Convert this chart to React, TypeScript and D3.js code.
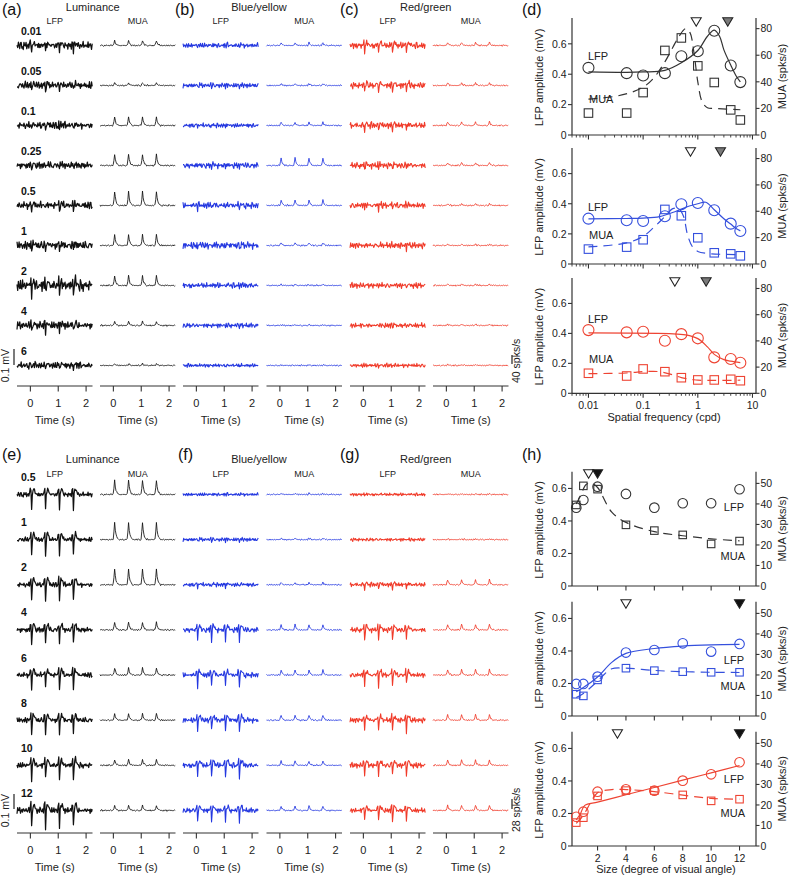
import React from 'react';
import * as d3 from 'd3';

const FONT = "'Liberation Sans', Arial, Helvetica, sans-serif";

// ---------- labels ----------
const sfRowLabels = ['0.01', '0.05', '0.1', '0.25', '0.5', '1', '2', '4', '6'];
const sizeRowLabels = ['0.5', '1', '2', '4', '6', '8', '10', '12'];
const groupTitles = ['Luminance', 'Blue/yellow', 'Red/green'];
const timeTicks = [0, 1, 2];
const stimOnsets = [0, 0.5, 1.0, 1.5];

// ---------- trace shape templates ----------
const noiseA = [0.2, -0.4, 0.6, -0.1, -0.7, 0.3, 0.8, -0.5, 0.1, -0.9, 0.4, 0.2, -0.3, 0.7, -0.6, 0.0,
  0.5, -0.8, 0.3, 0.9, -0.2, -0.5, 0.6, -0.4, 0.1, 0.7, -1.0, 0.4, -0.1, 0.3, -0.6, 0.8,
  -0.3, 0.2, -0.7, 0.5, 0.0, -0.4, 0.9, -0.6, 0.3, -0.2, 0.6, -0.8, 0.1, 0.4, -0.5, 0.7,
  -0.1, -0.9, 0.5, 0.2, -0.3, 0.8, -0.6, 0.0, 0.4, -0.7, 0.6, -0.2, 0.3, -0.5, 0.9, -0.4];
const noiseB = [0.5, -0.8, 0.2, 0.9, -0.4, -0.1, 0.7, -0.6, 0.3, -0.9, 0.6, 0.1, -0.5, 0.8, -0.2, -0.7,
  0.4, 0.0, -0.3, 0.9, -0.6, 0.2, -0.4];
const lfpKernel = [0.25, 0.4, -1.0, -0.1, 0.3, 0.4, 0.3, 0.15, 0.05];
const muaKernel = [0.05, 0.45, 1.0, 0.55, 0.3, 0.18, 0.1, 0.05];

// ---------- spatial frequency traces (mV / spks/s) ----------
const sfLumLfpNoise = [0.045, 0.045, 0.043, 0.043, 0.047, 0.05, 0.072, 0.047, 0.04];
const sfLumLfpEvoked = [0.035, 0.035, 0.025, 0.025, 0.035, 0.035, 0.06, 0.035, 0.025];
const sfLumMua = [22, 12, 38, 50, 62, 48, 44, 18, 8];
const sfBlueLfpNoise = [0.031, 0.029, 0.029, 0.034, 0.037, 0.041, 0.034, 0.029, 0.021];
const sfBlueLfpEvoked = [0.01, 0.01, 0.01, 0.015, 0.02, 0.02, 0.01, 0.01, 0.005];
const sfBlueMua = [12, 8, 14, 32, 24, 12, 5, 3, 2];
const sfRedLfpNoise = [0.038, 0.038, 0.038, 0.036, 0.037, 0.037, 0.033, 0.033, 0.025];
const sfRedLfpEvoked = [0.045, 0.045, 0.035, 0.02, 0.02, 0.015, 0.01, 0.01, 0.005];
const sfRedMua = [14, 12, 16, 13, 8, 6, 6, 6, 4];

// ---------- size traces ----------
const szLumLfpNoise = [0.028, 0.028, 0.031, 0.033, 0.033, 0.033, 0.035, 0.038];
const szLumLfpEvoked = [0.09, 0.1, 0.1, 0.09, 0.09, 0.09, 0.09, 0.1];
const szLumMua = [40, 48, 44, 22, 20, 18, 16, 14];
const szBlueLfpNoise = [0.02, 0.022, 0.026, 0.031, 0.031, 0.031, 0.033, 0.031];
const szBlueLfpEvoked = [0.005, 0.01, 0.02, 0.07, 0.07, 0.07, 0.075, 0.07];
const szBlueMua = [3, 4, 6, 14, 14, 14, 12, 12];
const szRedLfpNoise = [0.018, 0.02, 0.026, 0.03, 0.031, 0.031, 0.031, 0.031];
const szRedLfpEvoked = [0.005, 0.005, 0.03, 0.06, 0.065, 0.065, 0.065, 0.065];
const szRedMua = [2, 2, 14, 16, 16, 16, 15, 15];

// ---------- panel (d) ----------
const sfValues = [0.01, 0.05, 0.1, 0.25, 0.5, 1, 2, 4, 6];
const dLumLfp = [0.442, 0.407, 0.392, 0.407, 0.518, 0.551, 0.686, 0.457, 0.348];
const dLumMua = [16.5, 16.5, 31.9, 63.6, 73, 52, 39.5, 18.9, 11.3];
const dBlueLfp = [0.301, 0.29, 0.285, 0.317, 0.397, 0.405, 0.357, 0.268, 0.219];
const dBlueMua = [11.3, 12.8, 18.4, 41.4, 36.6, 19.9, 8.5, 7.7, 6.2];
const dRedLfp = [0.422, 0.407, 0.411, 0.351, 0.395, 0.367, 0.24, 0.229, 0.204];
const dRedMua = [15.3, 13.2, 18.6, 16.5, 11.9, 10.2, 10.2, 10.7, 9.6];
const dLumLfpFit = [[0.01, 0.415], [0.05, 0.412], [0.1, 0.415], [0.25, 0.425], [0.5, 0.475], [1, 0.556], [1.5, 0.65], [2, 0.69], [2.5, 0.65], [3, 0.56], [4, 0.46], [5, 0.39], [6, 0.35]];
const dLumMuaFit = [[0.01, 27], [0.03, 29], [0.06, 32], [0.1, 36], [0.15, 42], [0.25, 55], [0.35, 66], [0.45, 74], [0.6, 80], [0.72, 77], [0.85, 62], [1.0, 40], [1.2, 25], [1.5, 20.5], [2, 20], [6, 19]];
const dBlueLfpFit = [[0.01, 0.3], [0.05, 0.302], [0.1, 0.305], [0.2, 0.315], [0.4, 0.35], [0.7, 0.385], [1, 0.4], [1.4, 0.41], [2, 0.36], [3, 0.3], [4, 0.265], [5, 0.235], [6, 0.22]];
const dBlueMuaFit = [[0.01, 13], [0.05, 16], [0.1, 21], [0.15, 27], [0.25, 36], [0.35, 42], [0.45, 42], [0.55, 36], [0.65, 22], [0.8, 13], [1, 9.5], [1.5, 8], [6, 7]];
const dRedLfpFit = [[0.01, 0.403], [0.3, 0.398], [0.6, 0.39], [1, 0.365], [1.5, 0.31], [2, 0.26], [3, 0.225], [4, 0.215], [6, 0.205]];
const dRedMuaFit = [[0.01, 15], [0.05, 15.5], [0.1, 16.5], [0.2, 16.5], [0.35, 14], [0.5, 12], [0.8, 10.5], [1, 10], [6, 10]];
const dOpenTri = [0.935, 0.735, 0.38];
const dFilledTri = [3.53, 2.6, 1.42];
const dLeftTicks = [0, 0.2, 0.4, 0.6];
const dRightTicks = [0, 20, 40, 60, 80];
const sfTickLabels = [0.01, 0.1, 1, 10];

// ---------- panel (h) ----------
const sizeValues = [0.5, 1, 2, 4, 6, 8, 10, 12];
const hLumLfp = [0.482, 0.529, 0.611, 0.566, 0.482, 0.509, 0.509, 0.595];
const hLumMua = [39.5, 48.8, 47.2, 29.8, 27, 24.9, 20.5, 21.9];
const hBlueLfp = [0.197, 0.197, 0.242, 0.39, 0.406, 0.447, 0.396, 0.443];
const hBlueMua = [10.6, 9.8, 17.6, 23.3, 22.1, 21.6, 21.3, 21.3];
const hRedLfp = [0.18, 0.211, 0.334, 0.349, 0.34, 0.402, 0.441, 0.515];
const hRedMua = [11.4, 13.8, 24.4, 27, 27, 24.9, 22, 22.8];
const hLumMuaFit = [[0.5, 40], [0.8, 44], [1.2, 49.5], [1.6, 50], [2, 48], [3, 36], [4, 31], [6, 26.5], [8, 24.5], [10, 23], [12, 22]];
const hBlueLfpFit = [[0.5, 0.15], [1, 0.175], [2, 0.24], [3, 0.33], [4, 0.385], [6, 0.415], [8, 0.43], [10, 0.437], [12, 0.44]];
const hBlueMuaFit = [[0.5, 9], [1, 11], [2, 17], [2.5, 20.5], [3, 23], [4, 23.3], [6, 22.2], [8, 21.6], [10, 21.3], [12, 21.2]];
const hRedLfpFit = [[0.5, 0.16], [0.8, 0.2], [1.1, 0.25], [2, 0.27], [4, 0.315], [6, 0.36], [8, 0.405], [10, 0.45], [12, 0.495]];
const hRedMuaFit = [[0.5, 11], [1, 15], [1.5, 21], [2, 26], [3, 27.5], [4, 27.5], [6, 26.5], [8, 24.8], [10, 23.2], [12, 22.8]];
const hOpenTri = [1.37, 4.0, 3.4];
const hFilledTri = [2.0, 12, 12];
const hLeftTicks = [0, 0.2, 0.4, 0.6];
const hRightTicks = [0, 10, 20, 30, 40, 50];
const hXTicks = [2, 4, 6, 8, 10, 12];

// ---------- style / layout ----------
const BLACK = '#111';
const BLUE = '#2438e0';
const RED = '#f03b2a';
const PBLUE = '#3550dd';
const PRED = '#ee4433';
const AX = '#333';
const colX = [17, 100, 183, 266.5, 350, 433];
const colW = 75.5;
const T0 = -0.48, T1 = 2.23, DT = 0.025;
const NS = Math.round((T1 - T0) / DT) + 1;

function buildTrace(noiseAmp: number, evokedAmp: number, kernel: number[], offset: number, smooth: number) {
  const out: [number, number][] = [];
  const la = noiseA.length, lb = noiseB.length;
  for (let i = 0; i < NS; i++) {
    const t = T0 + i * DT;
    const a = (1 - smooth) * noiseA[(i + offset) % la] + smooth * noiseA[(i + offset + 1) % la];
    const b = (1 - smooth) * noiseB[(i + offset * 3) % lb] + smooth * noiseB[(i + offset * 3 + 1) % lb];
    let v = noiseAmp * (0.7 * a + 0.45 * b);
    for (const o of stimOnsets) {
      const k = i - Math.round((o - T0) / DT);
      if (k >= 0 && k < kernel.length) v += evokedAmp * kernel[k];
    }
    out.push([t, v]);
  }
  return out;
}

function Trace({ col, y, data, pxPerUnit, color, sw }: any) {
  const x = d3.scaleLinear().domain([T0, T1]).range([colX[col], colX[col] + colW]);
  const line = d3.line<[number, number]>().x(d => x(d[0])).y(d => y - d[1] * pxPerUnit);
  return <path d={line(data) || ''} fill="none" stroke={color} strokeWidth={sw} strokeLinejoin="round" />;
}

function TimeAxes({ y }: { y: number }) {
  return (
    <g>
      {colX.map((cx, i) => {
        const x = d3.scaleLinear().domain([T0, T1]).range([cx, cx + colW]);
        return (
          <g key={i}>
            <line x1={cx} x2={cx + colW} y1={y} y2={y} stroke={AX} strokeWidth={1.2} />
            {timeTicks.map(t => (
              <g key={t}>
                <line x1={x(t)} x2={x(t)} y1={y} y2={y + 5.5} stroke={AX} strokeWidth={1.1} />
                <text x={x(t)} y={y + 21} fontSize={11} textAnchor="middle" fill="#222">{t}</text>
              </g>
            ))}
            <text x={cx + colW / 2} y={y + 38} fontSize={11} textAnchor="middle" fill="#222">Time (s)</text>
          </g>
        );
      })}
    </g>
  );
}

function TraceBlock(props: any) {
  const { rows, labelY0, rowStep, traceDy, lfpNoise, lfpEvoked, mua, muaScale, muaNoise, axisY, titleY, subY, panelY, panels } = props;
  const colors = [BLACK, BLUE, RED];
  const centers = [0, 1, 2].map(g => (colX[g * 2] + colX[g * 2 + 1] + colW) / 2 - 3.5);
  return (
    <g>
      {panels.map((p: any, g: number) => (
        <text key={'p' + g} x={p[1]} y={panelY} fontSize={16} fill="#111">{p[0]}</text>
      ))}
      {groupTitles.map((t, g) => (
        <text key={'t' + g} x={centers[g]} y={titleY} fontSize={11} textAnchor="middle" fill="#222">{t}</text>
      ))}
      {colX.map((cx, i) => (
        <text key={'s' + i} x={cx + colW / 2} y={subY} fontSize={9} textAnchor="middle" fill="#222">{i % 2 === 0 ? 'LFP' : 'MUA'}</text>
      ))}
      {rows.map((lab: string, r: number) => {
        const ly = labelY0 + rowStep * r;
        const ty = ly + traceDy;
        return (
          <g key={lab}>
            <text x={21} y={ly} fontSize={10.5} fontWeight="bold" fill="#111">{lab}</text>
            {[0, 1, 2].map(g => (
              <g key={g}>
                <Trace col={g * 2} y={ty} data={buildTrace(lfpNoise[g][r], lfpEvoked[g][r], lfpKernel, r * 7 + g * 19, 0.3)}
                  pxPerUnit={160} color={colors[g]} sw={g === 0 ? 1.25 : 1.1} />
                <Trace col={g * 2 + 1} y={ty} data={buildTrace(muaNoise, mua[g][r], muaKernel, r * 11 + g * 5 + 3, 0.5)}
                  pxPerUnit={muaScale} color={colors[g]} sw={0.85} />
              </g>
            ))}
          </g>
        );
      })}
      <TimeAxes y={axisY} />
    </g>
  );
}

function DualPlot(props: any) {
  const { top, bottom, x, xMin, xMax, leftMax, rightMax, leftTicks, rightTicks, xMajor, xMinor, xLabels, xLabelFmt,
    lfp, mua, xs, lfpFit, muaFit, color, openTri, filledTri, triFill, triY, r, sq, lfpLab, muaLab, labAnchor } = props;
  const yL = d3.scaleLinear().domain([0, leftMax]).range([bottom, top]);
  const yR = d3.scaleLinear().domain([0, rightMax]).range([bottom, top]);
  const x0 = x(xMin), x1 = x(xMax);
  const lineL = d3.line<number[]>().x(d => x(d[0])).y(d => yL(d[1])).curve(d3.curveCatmullRom.alpha(0.5));
  const lineR = d3.line<number[]>().x(d => x(d[0])).y(d => yR(d[1])).curve(d3.curveCatmullRom.alpha(0.5));
  const midY = (top + bottom) / 2;
  const tri = (cx: number, fill: string, k: string) => (
    <path key={k} d={`M${cx - 5},${triY - 4}L${cx + 5},${triY - 4}L${cx},${triY + 4.5}Z`} fill={fill} stroke="#222" strokeWidth={1.1} />
  );
  return (
    <g>
      <line x1={x0} x2={x0} y1={top} y2={bottom} stroke={AX} strokeWidth={1.2} />
      <line x1={x1} x2={x1} y1={top} y2={bottom} stroke={AX} strokeWidth={1.2} />
      <line x1={x0} x2={x1} y1={bottom} y2={bottom} stroke={AX} strokeWidth={1.2} />
      {leftTicks.map((t: number) => (
        <g key={'l' + t}>
          <line x1={x0 - 4} x2={x0} y1={yL(t)} y2={yL(t)} stroke={AX} strokeWidth={1.1} />
          <text x={x0 - 5.5} y={yL(t) + 3.8} fontSize={10.5} textAnchor="end" fill="#222">{t}</text>
        </g>
      ))}
      {rightTicks.map((t: number) => (
        <g key={'r' + t}>
          <line x1={x1} x2={x1 + 3.5} y1={yR(t)} y2={yR(t)} stroke={AX} strokeWidth={1.1} />
          <text x={x1 + 4.5} y={yR(t) + 3.8} fontSize={10.5} textAnchor="start" fill="#222">{t}</text>
        </g>
      ))}
      {xMajor.map((t: number) => (
        <line key={'xm' + t} x1={x(t)} x2={x(t)} y1={bottom} y2={bottom + 4.5} stroke={AX} strokeWidth={1.1} />
      ))}
      {xMinor.map((t: number) => (
        <line key={'xn' + t} x1={x(t)} x2={x(t)} y1={bottom} y2={bottom + 2.5} stroke={AX} strokeWidth={0.9} />
      ))}
      {xLabels && xLabels.map((t: number) => (
        <text key={'xl' + t} x={x(t)} y={bottom + 16} fontSize={10.5} textAnchor="middle" fill="#222">{xLabelFmt(t)}</text>
      ))}
      <text transform={`translate(${543},${midY + 1}) rotate(-90)`} fontSize={11} textAnchor="middle" fill="#222">LFP amplitude (mV)</text>
      <text transform={`translate(${786},${midY}) rotate(-90)`} fontSize={11} textAnchor="middle" fill="#222">MUA (spks/s)</text>
      {muaFit && <path d={lineR(muaFit) || ''} fill="none" stroke={color} strokeWidth={1.2} strokeDasharray="9,6" />}
      {lfpFit && <path d={lineL(lfpFit) || ''} fill="none" stroke={color} strokeWidth={1.2} />}
      {mua.map((v: number, i: number) => (
        <rect key={'sq' + i} x={x(xs[i]) - sq / 2} y={yR(v) - sq / 2} width={sq} height={sq} fill="none" stroke={color} strokeWidth={1.1} />
      ))}
      {lfp.map((v: number, i: number) => (
        <circle key={'c' + i} cx={x(xs[i])} cy={yL(v)} r={r} fill="none" stroke={color} strokeWidth={1.1} />
      ))}
      {tri(x(openTri), 'white', 'o')}
      {tri(x(filledTri), triFill, 'f')}
      <text x={lfpLab[0]} y={lfpLab[1]} fontSize={11} textAnchor={labAnchor} fill="#222">LFP</text>
      <text x={muaLab[0]} y={muaLab[1]} fontSize={11} textAnchor={labAnchor} fill="#222">MUA</text>
    </g>
  );
}

export default function App() {
  const sfX = d3.scaleLog().domain([0.005, 11.6]).range([572, 756]);
  const szX = d3.scaleLinear().domain([0.2, 13.16]).range([572, 756]);
  const sfMajor = [0.01, 0.1, 1, 10];
  const sfMinor: number[] = [];
  [0.001, 0.01, 0.1, 1].forEach(dec => {
    for (let k = 2; k <= 9; k++) {
      const v = dec * k;
      if (v >= 0.005 && v <= 11.6) sfMinor.push(v);
    }
  });
  const dTops = [18, 148, 278];
  const dBottoms = [135, 264, 393.3];
  const hTops = [471.7, 601.7, 731.7];
  const hBottoms = [586, 716, 846];
  const dSets = [
    { lfp: dLumLfp, mua: dLumMua, lfpFit: dLumLfpFit, muaFit: dLumMuaFit, color: '#333' },
    { lfp: dBlueLfp, mua: dBlueMua, lfpFit: dBlueLfpFit, muaFit: dBlueMuaFit, color: PBLUE },
    { lfp: dRedLfp, mua: dRedMua, lfpFit: dRedLfpFit, muaFit: dRedMuaFit, color: PRED },
  ];
  const dLabs = [[[588, 60], [589, 102.7]], [[588, 210.7], [589, 239]], [[588, 322.7], [589, 363.3]]];
  const hSets = [
    { lfp: hLumLfp, mua: hLumMua, lfpFit: null, muaFit: hLumMuaFit, color: '#333' },
    { lfp: hBlueLfp, mua: hBlueMua, lfpFit: hBlueLfpFit, muaFit: hBlueMuaFit, color: PBLUE },
    { lfp: hRedLfp, mua: hRedMua, lfpFit: hRedLfpFit, muaFit: hRedMuaFit, color: PRED },
  ];
  const hLabs = [[[744, 510.7], [745, 560]], [[744, 664], [745, 690]], [[744, 783.3], [745, 816.7]]];

  return (
    <svg width={791} height={879} style={{ position: 'absolute', left: 0, top: 0, background: 'white' }} fontFamily={FONT}>
      <rect width={791} height={879} fill="white" />
      <TraceBlock rows={sfRowLabels} labelY0={34.5} rowStep={40} traceDy={11}
        lfpNoise={[sfLumLfpNoise, sfBlueLfpNoise, sfRedLfpNoise]}
        lfpEvoked={[sfLumLfpEvoked, sfBlueLfpEvoked, sfRedLfpEvoked]}
        mua={[sfLumMua, sfBlueMua, sfRedMua]} muaScale={9 / 40} muaNoise={8}
        axisY={386} titleY={10.5} subY={23.5} panelY={15}
        panels={[['(a)', 2], ['(b)', 175], ['(c)', 340]]} />
      <TraceBlock rows={sizeRowLabels} labelY0={481} rowStep={45.14} traceDy={13.5}
        lfpNoise={[szLumLfpNoise, szBlueLfpNoise, szRedLfpNoise]}
        lfpEvoked={[szLumLfpEvoked, szBlueLfpEvoked, szRedLfpEvoked]}
        mua={[szLumMua, szBlueMua, szRedMua]} muaScale={10 / 28} muaNoise={5}
        axisY={833} titleY={463} subY={477} panelY={460}
        panels={[['(e)', 2], ['(f)', 178], ['(g)', 340]]} />

      {/* scale bars */}
      <line x1={14} x2={14} y1={349} y2={365} stroke="#222" strokeWidth={1.2} />
      <text transform="translate(9,349) rotate(-90)" fontSize={10.5} textAnchor="end" fill="#222">0.1 mV</text>
      <line x1={512} x2={512} y1={355} y2={364} stroke="#222" strokeWidth={1.2} />
      <text transform="translate(520,383) rotate(-90)" fontSize={10.5} textAnchor="start" fill="#222">40 spks/s</text>
      <line x1={14} x2={14} y1={794} y2={809} stroke="#222" strokeWidth={1.2} />
      <text transform="translate(9,794) rotate(-90)" fontSize={10.5} textAnchor="end" fill="#222">0.1 mV</text>
      <line x1={512} x2={512} y1={799} y2={809} stroke="#222" strokeWidth={1.2} />
      <text transform="translate(520,832) rotate(-90)" fontSize={10.5} textAnchor="start" fill="#222">28 spks/s</text>

      {/* panel (d) */}
      <text x={522} y={15} fontSize={16} fill="#111">(d)</text>
      {dSets.map((s, i) => (
        <DualPlot key={'d' + i} top={dTops[i]} bottom={dBottoms[i]} x={sfX} xMin={0.005} xMax={11.6}
          leftMax={0.77} rightMax={88} leftTicks={dLeftTicks} rightTicks={dRightTicks}
          xMajor={sfMajor} xMinor={sfMinor} xLabels={i === 2 ? sfTickLabels : null} xLabelFmt={(t: number) => String(t)}
          lfp={s.lfp} mua={s.mua} xs={sfValues} lfpFit={s.lfpFit} muaFit={s.muaFit} color={s.color}
          openTri={dOpenTri[i]} filledTri={dFilledTri[i]} triFill="#7a7a7a" triY={dTops[i] + 3.7}
          r={5.5} sq={8.5} lfpLab={dLabs[i][0]} muaLab={dLabs[i][1]} labAnchor="start" />
      ))}
      <text x={664} y={421} fontSize={11} textAnchor="middle" fill="#222">Spatial frequency (cpd)</text>

      {/* panel (h) */}
      <text x={522} y={460} fontSize={16} fill="#111">(h)</text>
      {hSets.map((s, i) => (
        <DualPlot key={'h' + i} top={hTops[i]} bottom={hBottoms[i]} x={szX} xMin={0.2} xMax={13.16}
          leftMax={0.703} rightMax={55.7} leftTicks={hLeftTicks} rightTicks={hRightTicks}
          xMajor={hXTicks} xMinor={[]} xLabels={i === 2 ? hXTicks : null} xLabelFmt={(t: number) => String(t)}
          lfp={s.lfp} mua={s.mua} xs={sizeValues} lfpFit={s.lfpFit} muaFit={s.muaFit} color={s.color}
          openTri={hOpenTri[i]} filledTri={hFilledTri[i]} triFill="#111" triY={hTops[i] + 2}
          r={4.8} sq={7.5} lfpLab={hLabs[i][0]} muaLab={hLabs[i][1]} labAnchor="end" />
      ))}
      <text x={666} y={873} fontSize={11} textAnchor="middle" fill="#222">Size (degree of visual angle)</text>
    </svg>
  );
}
